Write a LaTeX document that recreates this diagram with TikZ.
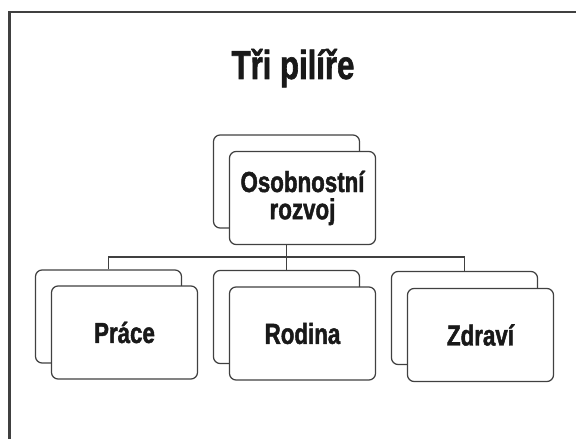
\documentclass[tikz,border=0pt]{standalone}
\usepackage{fontspec}
\newfontfamily\impact[UprightFont=* Bold, FakeStretch=0.77, FakeBold=1.5]{Liberation Sans}

\begin{document}
\begin{tikzpicture}[x=0.02cm, y=-0.02cm,
    pillar/.style ={rectangle, draw=black!75, line width=0.7pt, fill=white,
      rounded corners=0.13cm, minimum width=2.92cm, minimum height=1.86cm,
      inner sep=0pt, align=center, text=black!90,
      font=\impact\fontsize{16.5}{15.5}\selectfont},
    link/.style ={draw=black!75, line width=0.7pt}]
   \useasboundingbox (0,0) rectangle (576,439);
   \draw[line width=1.2pt, draw=black!75] (9.5,12) rectangle (577,446);
   \node[anchor=base, text=black!90,
     font=\impact\fontsize{23}{26}\selectfont] (T) at (293,79) {Tři pilíře};
   \node[pillar] (O2) at (286.5,181.5) {};
   \node[pillar] (O)  at (302.5,198)   {Osobnostní\\rozvoj};
   \node[pillar] (P2) at (108.5,316.5) {};
   \node[pillar] (P)  at (124.5,332.5) {Práce};
   \node[pillar] (R2) at (286.5,317)   {};
   \node[pillar] (R)  at (302.5,333.5) {Rodina};
   \node[pillar] (Z2) at (464.5,318)   {};
   \node[pillar] (Z)  at (480.5,335)   {Zdraví};
   \draw[link] (O2 |- O.south) -- ++(0,12) coordinate (F);
   \draw[link] (P2.north) |- (F) -| (Z2.north);
   \draw[link] (F) to (R2.north);
 \end{tikzpicture}
\end{document}
